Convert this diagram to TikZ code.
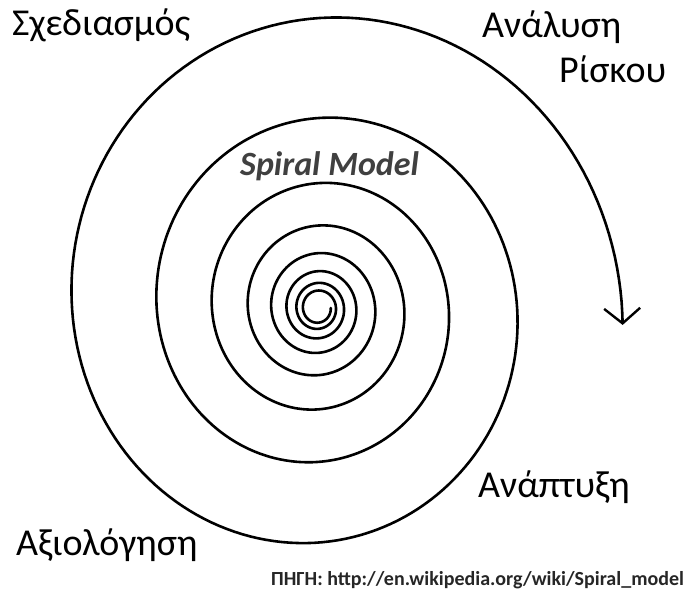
\documentclass[tikz,border=0pt]{standalone}
\usepackage{fontspec}
\setmainfont{Carlito}
\usetikzlibrary{arrows.meta}
\begin{document}
\begin{tikzpicture}[x=1pt,y=-1pt,
  phase/.style={font=\fontsize{38}{42}\selectfont, inner sep=0pt, anchor=base west, text=black},
  title/.style={font=\fontsize{34}{38}\selectfont\bfseries\itshape, inner sep=0pt, anchor=base west, text=black!75},
  source/.style={font=\fontsize{20}{24}\selectfont\bfseries, inner sep=0pt, anchor=base west, text=black!85},
  spiralline/.style={line width=2.6pt, line join=round, line cap=round},
  tip/.style={arrows={Straight Barb[length=15pt,width=36pt,line width=2.4pt]-}}]
\useasboundingbox (0,0) rectangle (689,597);
\fill[white] (0,0) rectangle (689,597);
% logarithmic spiral, outer end at the arrow
\draw[spiralline, tip] plot[domain=-3:2880, samples=1400, variable=\t]
  ({318 + (301*exp(-0.4285*\t/360)+3)*cos(\t)},
   {308 - 1.06*(301*exp(-0.4285*\t/360)+3)*sin(\t)});
\node[phase] (plan) at (12,35) {Σχεδιασμός};
\node[phase] (risk1) at (482,37) {Ανάλυση};
\node[phase] (risk2) at (559,82) {Ρίσκου};
\node[phase] (dev) at (478,497) {Ανάπτυξη};
\node[phase] (eval) at (16,555) {Αξιολόγηση};
\node[title] (model) at (240,175) {Spiral Model};
\node[source] (src) at (271,585) {ΠΗΓΗ: http://en.wikipedia.org/wiki/Spiral\_model};
\end{tikzpicture}
\end{document}
